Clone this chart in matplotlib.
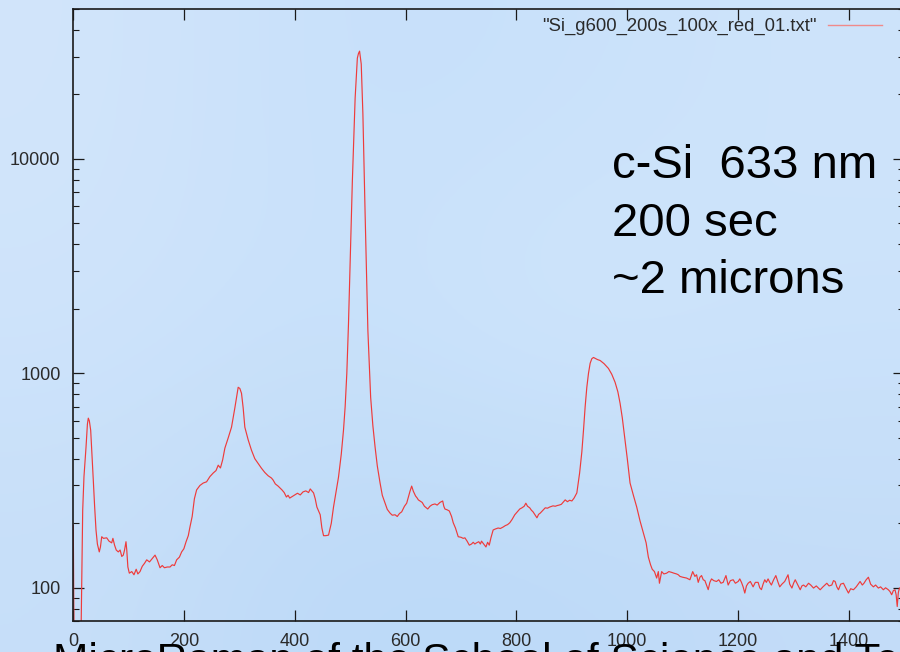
import numpy as np
import matplotlib
matplotlib.use("Agg")
import matplotlib.pyplot as plt
from matplotlib.ticker import FixedLocator, FuncFormatter, NullFormatter, LogLocator

plt.rcParams['font.family'] = ['Liberation Sans', 'DejaVu Sans']

# ---------------- data ----------------
series_label = '"Si_g600_200s_100x_red_01.txt"'

shift_main = [0.5, 3, 12, 15.5, 17.5, 19.8, 23.5, 26, 27.6, 29.5, 31.9, 34, 36.6, 39, 41.5, 44, 47.4,
              49.5, 51.8, 55, 60.8, 65, 69.8, 72, 75, 78, 81.7, 85, 88, 90.7, 93, 95.6, 97, 99, 101.6,
              106, 110, 114, 117, 120.9, 125, 129, 133, 138, 143, 148, 152, 157, 161, 165, 170, 175,
              179, 183, 187, 192, 196, 200, 204, 208, 211, 215, 219, 223, 229, 235, 241, 247, 253,
              258, 262, 266, 270, 274, 280, 286, 292, 298, 301, 304, 307, 310, 316, 322, 328, 334,
              340, 346, 352, 358, 361, 365, 370, 377, 381, 385, 388, 391, 395, 400, 405, 410, 415,
              420, 425, 428, 431, 434, 437, 440, 446, 449, 452, 456, 461, 466, 470, 474, 479, 484,
              488, 491, 494, 497, 500, 504, 509, 513, 515, 517, 519, 520, 523, 527, 532, 537, 541,
              545, 549, 554, 558, 563, 567, 572, 576, 581, 585, 589, 593, 598, 602, 605, 608, 611,
              614, 618, 621, 623, 626, 630, 634, 640, 644, 648, 653, 657, 662, 667, 669, 671, 675,
              679, 683, 686, 690, 695, 700, 704, 707, 711, 715, 719, 722, 725, 728, 732, 735, 737,
              741, 745, 748, 751, 754, 758, 762, 767, 771, 776, 780, 784, 788, 792, 797, 801, 806,
              810, 814, 817, 820, 824, 827, 830, 834, 837, 840, 843, 848, 852, 856, 860, 866, 870,
              874, 877, 881, 884, 888, 892, 896, 900, 904, 909, 914, 918, 921, 924, 927, 930, 933,
              936, 939, 942, 946, 951, 958, 966, 972, 978, 983, 987, 991, 996, 1000, 1005, 1011,
              1017, 1023, 1029, 1034, 1038, 1042, 1045, 1049]
counts_main = [196, 20, 20, 95, 230, 330, 453, 580, 618, 600, 543, 430, 318, 240, 186, 160, 147,
               155, 173, 170, 171, 165, 162, 170, 158, 150, 147, 150, 140, 142, 150, 164, 150, 125, 117,
               119, 115, 122, 116, 119, 126, 130, 135, 132, 137, 142, 135, 124, 127, 124, 125, 125,
               128, 127, 135, 139, 147, 152, 164, 175, 192, 215, 260, 286, 300, 308, 312, 330, 343,
               352, 373, 362, 395, 448, 500, 561, 690, 861, 850, 807, 690, 561, 490, 438, 400, 380,
               361, 345, 333, 325, 318, 305, 298, 286, 278, 265, 270, 262, 266, 271, 276, 271, 280,
               283, 278, 289, 283, 277, 260, 238, 219, 190, 175, 175, 176, 200, 238, 275, 328, 420,
               543, 700, 1000, 1700, 3250, 7900, 19200, 29500, 31000, 31800, 29000, 27700, 16200, 5550,
               1585, 773, 570, 453, 370, 308, 270, 248, 232, 223, 218, 219, 215, 222, 226, 240, 248,
               265, 282, 298, 282, 268, 262, 257, 254, 250, 240, 233, 240, 244, 246, 243, 250, 254,
               240, 233, 231, 228, 215, 201, 190, 173, 172, 170, 171, 165, 158, 160, 163, 160, 162,
               164, 160, 165, 160, 155, 163, 158, 171, 186, 188, 190, 189, 192, 195, 197, 201, 208,
               219, 225, 233, 236, 240, 248, 240, 236, 230, 226, 218, 212, 220, 223, 230, 236, 235,
               238, 241, 240, 242, 243, 245, 250, 257, 252, 256, 254, 262, 277, 343, 430, 543, 700,
               861, 1000, 1114, 1170, 1186, 1175, 1160, 1148, 1110, 1054, 990, 908, 820, 725, 620,
               488, 400, 308, 270, 238, 205, 180, 162, 139, 128, 122, 119]

shift_tail = [1053, 1056, 1058, 1062, 1066, 1071, 1075, 1080, 1084, 1089, 1092, 1095, 1100, 1107,
              1110, 1113, 1118, 1122, 1125, 1128, 1131, 1134, 1137, 1140, 1143, 1146, 1149, 1152,
              1156, 1161, 1165, 1169, 1173, 1178, 1182, 1186, 1191, 1195, 1200, 1203, 1206, 1209,
              1212, 1215, 1218, 1222, 1227, 1231, 1236, 1239, 1242, 1245, 1248, 1251, 1254, 1257,
              1260, 1264, 1268, 1272, 1275, 1279, 1284, 1287, 1290, 1293, 1297, 1300, 1303, 1307,
              1312, 1315, 1318, 1322, 1327, 1331, 1336, 1341, 1348, 1353, 1360, 1364, 1369, 1372,
              1375, 1378, 1381, 1385, 1390, 1394, 1399, 1403, 1408, 1413, 1420, 1424, 1427, 1431,
              1435, 1439, 1444, 1448, 1453, 1457, 1462, 1466, 1471, 1474, 1477, 1480, 1483, 1485,
              1487, 1489, 1491]
counts_tail = [111, 119, 105, 119, 116, 117, 119, 118, 117, 116, 115, 113, 112, 111,
               110, 109, 119, 113, 115, 106, 112, 114, 109, 108, 103, 98, 106, 110,
               108, 107, 109, 105, 106, 114, 103, 108, 109, 105, 107, 110, 106, 101,
               94.5, 102, 105, 107, 101, 106, 106, 100, 98, 104, 109, 106, 110, 106,
               103, 109, 114, 106, 101, 104, 107, 111, 115, 104, 99.7, 105, 109, 104,
               97.9, 102, 103, 101, 105, 103, 99.7, 102, 97.9, 101, 105, 102, 103, 108,
               107, 101, 97.9, 104, 105, 100, 94.5, 99, 97.9, 101, 107, 103, 105, 109,
               112, 104, 101, 103, 99.7, 101, 97.9, 100, 97.9, 96, 92.8, 97, 97.9, 93,
               81.8, 95, 99.7]

x_ticks = [0, 200, 400, 600, 800, 1000, 1200, 1400]
y_ticks = [100, 1000, 10000]
x_range = (0, 1500)
y_range = (70, 50000)

note_lines = ["c-Si  633 nm", "200 sec", "~2 microns"]
footer = "MicroRaman of the School of Science and Technology"

# ---------------- figure ----------------
W, H = 900, 652
fig = plt.figure(figsize=(W / 100, H / 100), dpi=100)

# slide-like light blue gradient background
bg_grid = np.array([
    [[210, 229, 251], [199, 224, 250], [201, 225, 250], [206, 228, 251]],
    [[207, 228, 251], [200, 225, 250], [210, 231, 252], [204, 227, 251]],
    [[199, 223, 249], [188, 217, 248], [189, 218, 248], [195, 220, 248]],
], dtype=float) / 255.0
bg = fig.add_axes([0, 0, 1, 1], zorder=-10)
bg.imshow(bg_grid, aspect='auto', interpolation='bicubic', extent=[0, 1, 0, 1])
bg.set_axis_off()

# axes: x 0 -> px 73, 1400 -> px 849 ; y 100 -> px 588, decade 215 px
px_per_unit = (849 - 73) / 1400
left_px, right_px = 73, 73 + 1500 * px_per_unit
top_px, bottom_px = 9, 621
ax = fig.add_axes([left_px / W, 1 - bottom_px / H,
                   (right_px - left_px) / W, (bottom_px - top_px) / H])
ax.set_facecolor('none')

line_color = '#ee3b3b'
x_all = shift_main + shift_tail
y_all = counts_main + counts_tail
ax.plot(x_all, y_all, color=line_color, lw=0.85, label=series_label)

ax.set_yscale('log')
ax.set_xlim(*x_range)
ax.set_ylim(*y_range)

ax.xaxis.set_major_locator(FixedLocator(x_ticks))
ax.yaxis.set_major_locator(FixedLocator(y_ticks))
ax.yaxis.set_minor_locator(LogLocator(base=10, subs=np.arange(2, 10)))
ax.yaxis.set_major_formatter(FuncFormatter(lambda v, p: f"{int(round(v))}"))
ax.yaxis.set_minor_formatter(NullFormatter())

for s in ax.spines.values():
    s.set_linewidth(1.2)
    s.set_color('#1a1a1a')

ax.tick_params(which='major', direction='in', length=8, width=0.9, top=True, right=True,
               labelsize=13, labelcolor='#2a2a2a', color='#1a1a1a')
ax.tick_params(which='minor', direction='in', length=4, width=0.8, top=True, right=True,
               color='#1a1a1a')
ax.tick_params(axis='x', pad=8.5)
ax.tick_params(axis='y', pad=9)

leg = ax.legend(loc='upper right', bbox_to_anchor=((882 - 73) / (right_px - 73), 1 - 9 / (bottom_px - top_px)),
                frameon=False, markerfirst=False, fontsize=13.3, handlelength=2.9,
                handletextpad=0.65, borderpad=0, borderaxespad=0)
for t in leg.get_texts():
    t.set_color('#2a2a2a')
for h in leg.get_lines():
    h.set_color('#f08a8a')
    h.set_linewidth(1.0)

# annotation text block
baselines = [178.3, 236, 293.3]
for txt, bl in zip(note_lines, baselines):
    fig.text(612 / W, 1 - bl / H, txt, fontsize=34, color='black', va='baseline', ha='left')

# footer (cut by the bottom edge like the reference)
fig.text(53 / W, 1 - 673 / H, footer, fontsize=30.5, color='black', va='baseline', ha='left')

fig.savefig('out.png', dpi=100)
